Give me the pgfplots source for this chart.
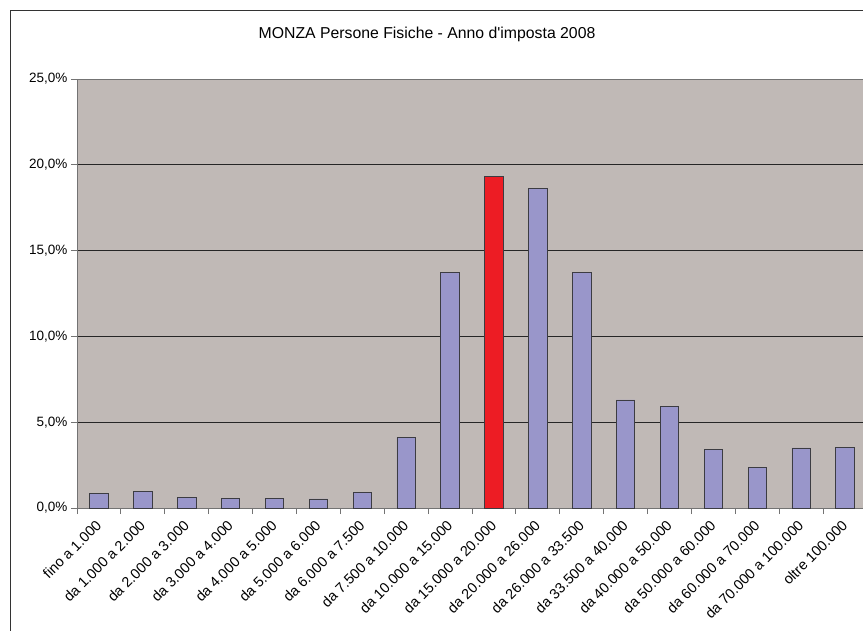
\documentclass[border=0pt]{standalone}
\usepackage{pgfplots}
\pgfplotsset{compat=1.18}
\usepackage{fontspec}
\setmainfont{Liberation Sans}

\definecolor{plotbg}{RGB}{192,185,182}
\definecolor{barblue}{RGB}{153,150,202}
\definecolor{barred}{RGB}{237,28,36}
\definecolor{edge}{RGB}{60,60,66}

\begin{document}
\begin{tikzpicture}
  \useasboundingbox (0pt,0pt) rectangle (863pt,-630pt);
  % outer chart frame
  \draw[black!80,line width=1pt] (10pt,-10pt) rectangle (880pt,-650pt);
  \node[font=\fontsize{15.8}{18}\selectfont] at (427pt,-34pt) {MONZA Persone Fisiche - Anno d\textquotesingle imposta 2008};
  \begin{axis}[
    at={(77pt,-508pt)}, anchor=south west,
    scale only axis, width=790pt, height=429pt,
    xmin=-0.5, xmax=17.5, ymin=0, ymax=25,
    axis background/.style={fill=plotbg},
    axis line style={gray!90!black, line width=0.8pt},
    ytick={0,5,10,15,20,25},
    yticklabels={{0,0\%},{5,0\%},{10,0\%},{15,0\%},{20,0\%},{25,0\%}},
    ytick pos=left, xtick pos=bottom,
    tick align=outside,
    major tick length=6pt,
    tick style={gray!90!black, line width=0.8pt},
    ymajorgrids, grid style={black!85, line width=0.8pt},
    xtick={0,...,17},
    major x tick style={draw=none},
    minor xtick={-0.5,0.5,...,17.5},
    minor tick length=6pt,
    minor x tick style={gray!90!black, line width=0.8pt},
    xticklabels={fino a 1.000, da 1.000 a 2.000, da 2.000 a 3.000, da 3.000 a 4.000,
      da 4.000 a 5.000, da 5.000 a 6.000, da 6.000 a 7.500, da 7.500 a 10.000,
      da 10.000 a 15.000, da 15.000 a 20.000, da 20.000 a 26.000, da 26.000 a 33.500,
      da 33.500 a 40.000, da 40.000 a 50.000, da 50.000 a 60.000, da 60.000 a 70.000,
      da 70.000 a 100.000, oltre 100.000},
    x tick label style={font=\fontsize{14.4}{16}\selectfont, rotate=45, anchor=east, xshift=-3pt, yshift=-6pt},
    y tick label style={font=\fontsize{13.5}{16}\selectfont},
    ybar, bar width=18.5pt, bar shift=0pt,
  ]
    \addplot[fill=barblue, draw=edge, line width=0.8pt] coordinates {
      (0,0.85) (1,0.95) (2,0.6) (3,0.55) (4,0.55) (5,0.53) (6,0.9) (7,4.1)
      (8,13.75) (10,18.6) (11,13.75) (12,6.3) (13,5.9) (14,3.4) (15,2.35)
      (16,3.5) (17,3.55)};
    \addplot[fill=barred, draw=edge, line width=0.8pt] coordinates {(9,19.3)};
  \end{axis}
\end{tikzpicture}
\end{document}
